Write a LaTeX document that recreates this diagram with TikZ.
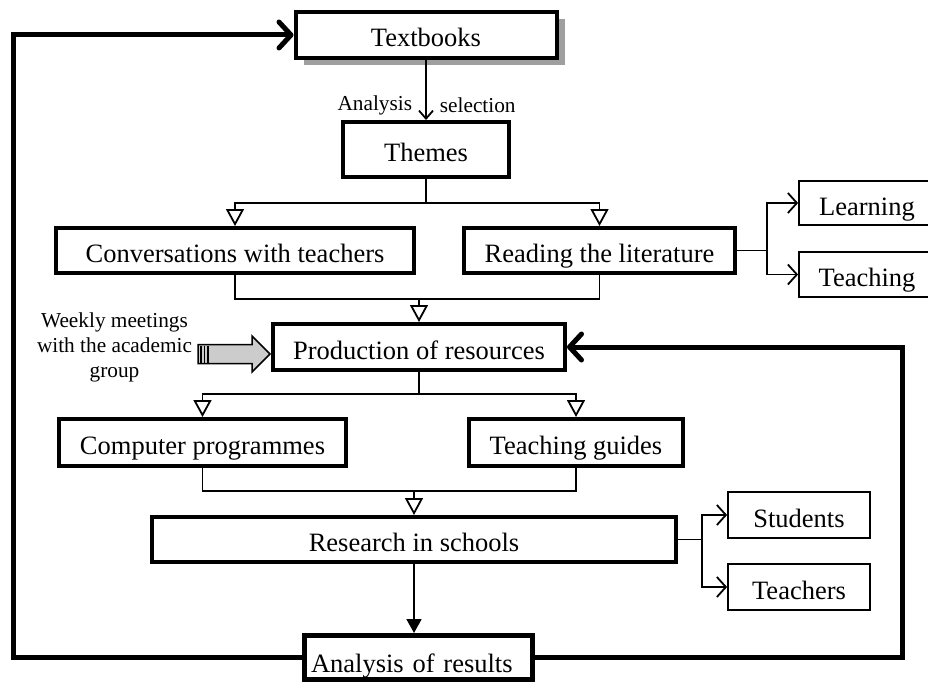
\documentclass[tikz,border=0pt]{standalone}
\usepackage{fontspec}
\setmainfont{Liberation Serif}
\usetikzlibrary{arrows.meta,positioning,calc,shadows}

\begin{document}
\begin{tikzpicture}[
  x=1pt, y=-1pt,
  every node/.style={font=\fontsize{26.5}{30}\selectfont, inner sep=0pt},
  small/.style={font=\fontsize{21.3}{25}\selectfont},
  box/.style={draw, line width=4pt, text height=24pt, text depth=0pt},
  thinbox/.style={draw, line width=1.8pt, text height=24pt, text depth=0pt},
  link/.style={line width=1.8pt},
  tri/.style={link, -{Triangle[open,length=17pt,width=18pt]}},
  barb/.style={link, -{Straight Barb[length=9pt,width=20pt]}},
  feed/.style={line width=5pt, -{Straight Barb[length=12pt,width=26pt,round]}}
]
\useasboundingbox (0,0) rectangle (928,682);

\node[box, fill=white, minimum width=261pt, minimum height=46pt,
  drop shadow={shadow xshift=8pt, shadow yshift=-7pt, fill=gray!75, opacity=1}]
  (Text) at (426,35) {Textbooks};
\node[box, minimum width=166pt, minimum height=55pt] (Themes) at (426,149.5) {Themes};
\node[box, minimum width=358pt, minimum height=45pt] (Conv) at (235,250.5) {Conversations with teachers};
\node[box, minimum width=271pt, minimum height=45pt] (Read) at (599.5,250.5) {Reading the literature};
\node[thinbox, minimum width=136pt, minimum height=44pt] (Learn) at (867,203) {Learning};
\node[thinbox, minimum width=136pt, minimum height=45pt] (Teach) at (867,274.5) {Teaching};
\node[box, minimum width=292pt, minimum height=46pt] (Prod) at (419,347) {Production of resources};
\node[small, align=center] (Weekly) at (114.5,347) {Weekly meetings\\with the academic\\group};
\node[box, minimum width=287pt, minimum height=47pt] (Comp) at (202.5,442.5) {Computer programmes};
\node[box, minimum width=214pt, minimum height=47pt] (Guides) at (576,442.5) {Teaching guides};
\node[box, minimum width=524pt, minimum height=45pt] (Res) at (414,539.5) {Research in schools};
\node[thinbox, minimum width=142pt, minimum height=46pt] (Stud) at (799,515) {Students};
\node[thinbox, minimum width=142pt, minimum height=46pt] (Tchr) at (799,587) {Teachers};
\node[box, line width=5pt, minimum height=44pt, text width=214pt, inner xsep=7pt,
  text height=29pt, text depth=0pt, align=left] (Anal) at (418,657.5) {Analysis of results};

\coordinate (J1) at (426,203);
\coordinate (M1) at (419,299);
\coordinate (J2) at (419,394);
\coordinate (M2) at (414,491);
\coordinate (J3) at (767,250.5);
\coordinate (J4) at (702,539.5);
\coordinate (L1) at (13,35);
\coordinate (R1) at (902,347);

\draw[link, -{Straight Barb[length=8pt,width=14pt]}] (Text) --
  node[small, pos=.75, left=13pt] (Ans) {Analysis}
  node[small, pos=.75, right=13pt] (Sel) {selection} (Themes);
\draw[link] (Themes) -- (J1);
\draw[tri] (J1) -| (Conv);
\draw[tri] (J1) -| (Read);
\draw[link] (Conv.south) |- (M1) -| (Read.south);
\draw[tri] (M1) -- (Prod);
\draw[link] (Read) -- (J3);
\draw[barb] (J3) |- (Learn);
\draw[barb] (J3) |- (Teach);
\draw[link] (Prod) -- (J2);
\draw[tri] (J2) -| (Comp);
\draw[tri] (J2) -| (Guides);
\draw[link] (Comp.south) |- (M2) -| (Guides.south);
\draw[tri] (M2) -- (Res);
\draw[link] (Res) -- (J4);
\draw[barb] (J4) |- (Stud);
\draw[barb] (J4) |- (Tchr);
\draw[link, -{Triangle[length=14pt,width=15pt]}] (Res.south) -- (Res.south |- Anal.north);

% feedback loops
\draw[feed] (Anal.west) -| (L1) -- (Text.west);
\draw[feed] (Anal.east) -| (R1) -- (Prod.east);

% block arrow from the weekly meetings
\coordinate (Wtip) at ($(Prod.west)+(-1,7)$);
\draw[fill=gray!40, line width=1.5pt] (Wtip) -- ++(-18,-18) -- ++(0,8.5) -- ++(-54,0)
  -- ++(0,19) -- ++(54,0) -- ++(0,8.5) -- cycle;
\foreach \s in {201,204.5,208}
  \draw[line width=1.6pt] (\s,345.5) -- (\s,362.5);
\end{tikzpicture}
\end{document}
